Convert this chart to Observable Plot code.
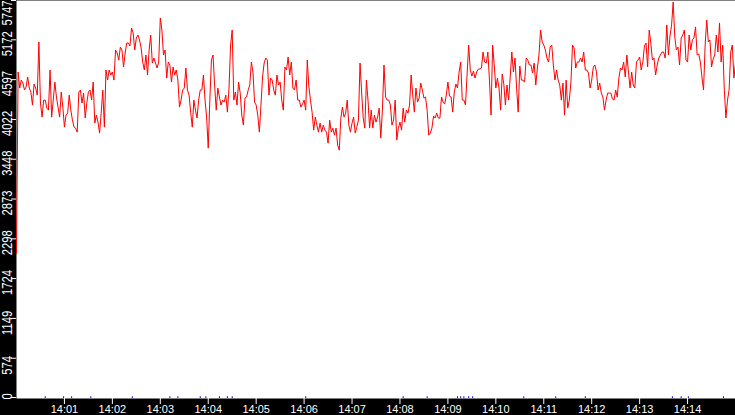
<!DOCTYPE html>
<html>
<head>
<meta charset="utf-8">
<script src="https://cdn.jsdelivr.net/npm/d3@7"></script>
<script src="https://cdn.jsdelivr.net/npm/@observablehq/plot@0.6"></script>
<style>
  html, body { margin: 0; padding: 0; background: #000; overflow: hidden; }
  #chart svg { display: block; }
</style>
</head>
<body>
<div id="chart"></div>
<script>
// ---- data ----
const startTime = "14:00:00";
const endTime = "14:15:00";
const stepSeconds = 2;
const seriesValues = [
2097,4714,4483,4598,4555,4454,4497,4642,4483,4425,4237,4540,4483,4381,5148,4266,4063,4309,4309,4193,
4164,4743,4063,4309,4569,4353,4208,4063,4425,4208,3919,4092,4121,4381,4164,4020,3919,3904,3846,4425,
4454,4266,4410,4049,4266,4425,4454,4309,4569,3977,4092,3991,3832,4121,4454,3919,4743,4598,4743,4671,
4714,4598,5032,4989,4887,5075,5032,4786,4989,5133,5133,5090,5350,5278,5032,
5206,5249,5177,5061,4858,4743,4960,4671,5032,5249,4844,4916,4844,4772,4858,5495,5321,4960,5032,4627,
4858,4815,4569,4786,4671,4743,4598,4208,4309,4454,4483,4772,4454,4381,4135,3919,4309,4164,4049,4309,
4454,4454,4671,4309,4063,3615,4309,4887,4960,4526,4164,4483,4353,4237,4309,4280,4381,4135,4483,5104,
5321,4309,4425,4237,4569,4410,4092,3948,4338,4353,4454,4526,4858,4714,4280,
4237,4092,3846,4237,4642,4844,4916,4887,4381,4627,4598,4454,4381,4671,4526,4569,4309,4164,4786,4743,
4931,4671,4858,4483,4454,4598,4309,4309,4208,4251,4309,4164,4887,4497,4309,4135,3875,4063,3948,3846,
3977,3846,3948,3875,3846,3687,4020,3846,3904,3803,3904,3658,3586,4049,4208,4063,4121,4309,3948,3846,
3977,4063,3832,3919,4020,4844,4425,4049,3904,4598,4309,3904,4164,3904,4092,
3991,4063,4193,3760,4164,4815,4353,4309,4309,4237,3948,4020,4309,3731,3904,3991,3875,4193,3991,4164,
4121,4237,4671,4381,4135,4483,4280,4338,4555,4454,4338,4353,4164,3803,3832,3904,4078,4049,4121,4049,
4049,4353,4280,4251,4381,4569,4367,4353,4135,4425,4540,4483,4714,4858,4309,4309,4237,4671,5104,4743,
4656,4728,4627,4714,4757,4757,4772,5003,4858,4844,5003,4598,4092,5104,4815,
4483,4627,4483,4164,4685,4540,4237,4526,4309,4642,5003,4714,4916,4483,4135,4801,4598,4598,4569,4916,
4887,4815,4815,4700,4844,4526,4772,4960,5321,5148,5104,5032,4916,4858,5075,5104,4815,4598,4743,4598,
4526,4309,4555,4092,4598,4193,4309,4569,5104,5061,4772,4858,4858,4916,4858,5003,4743,4743,4700,4483,
4598,4786,4815,4714,4454,4555,4410,4353,4164,4309,4410,4410,4410,
4324,4309,4454,4353,4627,4772,4743,4858,4642,4960,4714,4483,4714,4526,4483,4858,4887,4931,4743,4858,
5090,5133,4786,5321,5133,4887,4916,4671,4815,4916,4960,5003,5003,4916,5394,4960,5235,5394,5726,5220,
5032,5075,4815,5206,5249,5321,4887,4858,5249,5032,5177,5206,5365,4960,4974,4858,4642,4454,5104,5466,
5148,5177,4786,4902,4960,5249,5003,5423,4858,5104,4454,4049,4309,4454,5003,5104,4627,4844
];
const eventTimes = ["14:00:36","14:00:59","14:01:09","14:01:33","14:02:25","14:03:12","14:03:22","14:03:50",
  "14:03:57","14:04:14","14:04:24","14:04:30","14:06:02","14:08:04","14:08:34","14:09:12","14:09:16",
  "14:09:20","14:09:26","14:09:31","14:10:35","14:11:15","14:11:52","14:13:41","14:13:52","14:14:01","14:14:45"];
const xTickLabels = ["14:01","14:02","14:03","14:04","14:05","14:06","14:07","14:08","14:09","14:10","14:11","14:12","14:13","14:14"];
const yTicks = [0,574,1149,1724,2298,2873,3448,4022,4597,5172,5747];

// ---- build ----
const parseT = d3.utcParse("%H:%M:%S");
const parseM = d3.utcParse("%H:%M");
const t0 = parseT(startTime);
const t1 = parseT(endTime);
const series = seriesValues.map((v, i) => ({ t: new Date(+t0 + i * stepSeconds * 1000), v }));
const events = eventTimes.map(parseT);
const xTicks = xTickLabels.map(parseM);

const ySpan = yTicks[yTicks.length - 1];
const yLabelFont = { fontSize: 14.5, fontFamily: "Liberation Sans, Arial, sans-serif", fill: "white" };
const marginLeft = 16;

const chart = Plot.plot({
  width: 735,
  height: 415,
  marginLeft,
  marginRight: 0,
  marginTop: 0,
  marginBottom: 17,
  style: { background: "black", color: "white", fontFamily: "Liberation Sans, Arial, sans-serif", overflow: "visible" },
  x: { type: "utc", domain: [t0, t1], axis: null },
  y: { domain: [0, ySpan], axis: null },
  marks: [
    Plot.frame({ fill: "white", stroke: "none" }),
    Plot.ruleX(events, { x: d => d, y1: 0, y2: 25, stroke: "blue", strokeWidth: 1 }),
    Plot.line(series, { x: "t", y: "v", stroke: "red", strokeWidth: 1 }),
    Plot.text(yTicks.slice(1, -1), { y: d => d, text: d => String(d), frameAnchor: "left", dx: -9, dy: 16, rotate: -90, textAnchor: "start", ...yLabelFont }),
    Plot.text([yTicks[0]], { y: d => d, text: d => String(d), frameAnchor: "left", dx: -9, dy: 1, rotate: -90, textAnchor: "start", ...yLabelFont }),
    Plot.text([yTicks[yTicks.length - 1]], { y: d => d, text: d => String(d), frameAnchor: "left", dx: -9, dy: 25, rotate: -90, textAnchor: "start", ...yLabelFont }),
    Plot.axisX({ ticks: xTicks, tickSize: 6, tickPadding: 1, tickFormat: (d, i) => xTickLabels[i], label: null, fontSize: 11, stroke: "white", fill: "white" })
  ]
});

// condense rotated y labels along their reading direction
d3.select(chart).selectAll("text").each(function () {
  const tr = this.getAttribute("transform");
  if (tr && tr.includes("rotate")) this.setAttribute("transform", tr + " scale(0.78,1)");
});

// short white y tick marks in the left strip, placed with Plot's own y scale
const yScale = chart.scale("y");
d3.select(chart).append("g")
  .attr("stroke", "white")
  .attr("stroke-width", 1)
  .selectAll("line")
  .data(yTicks)
  .join("line")
  .attr("x1", marginLeft - 5)
  .attr("x2", marginLeft)
  .attr("y1", d => Math.min(Math.max(yScale.apply(d), 0.5), 397.5))
  .attr("y2", d => Math.min(Math.max(yScale.apply(d), 0.5), 397.5));

document.getElementById("chart").appendChild(chart);
</script>
</body>
</html>
